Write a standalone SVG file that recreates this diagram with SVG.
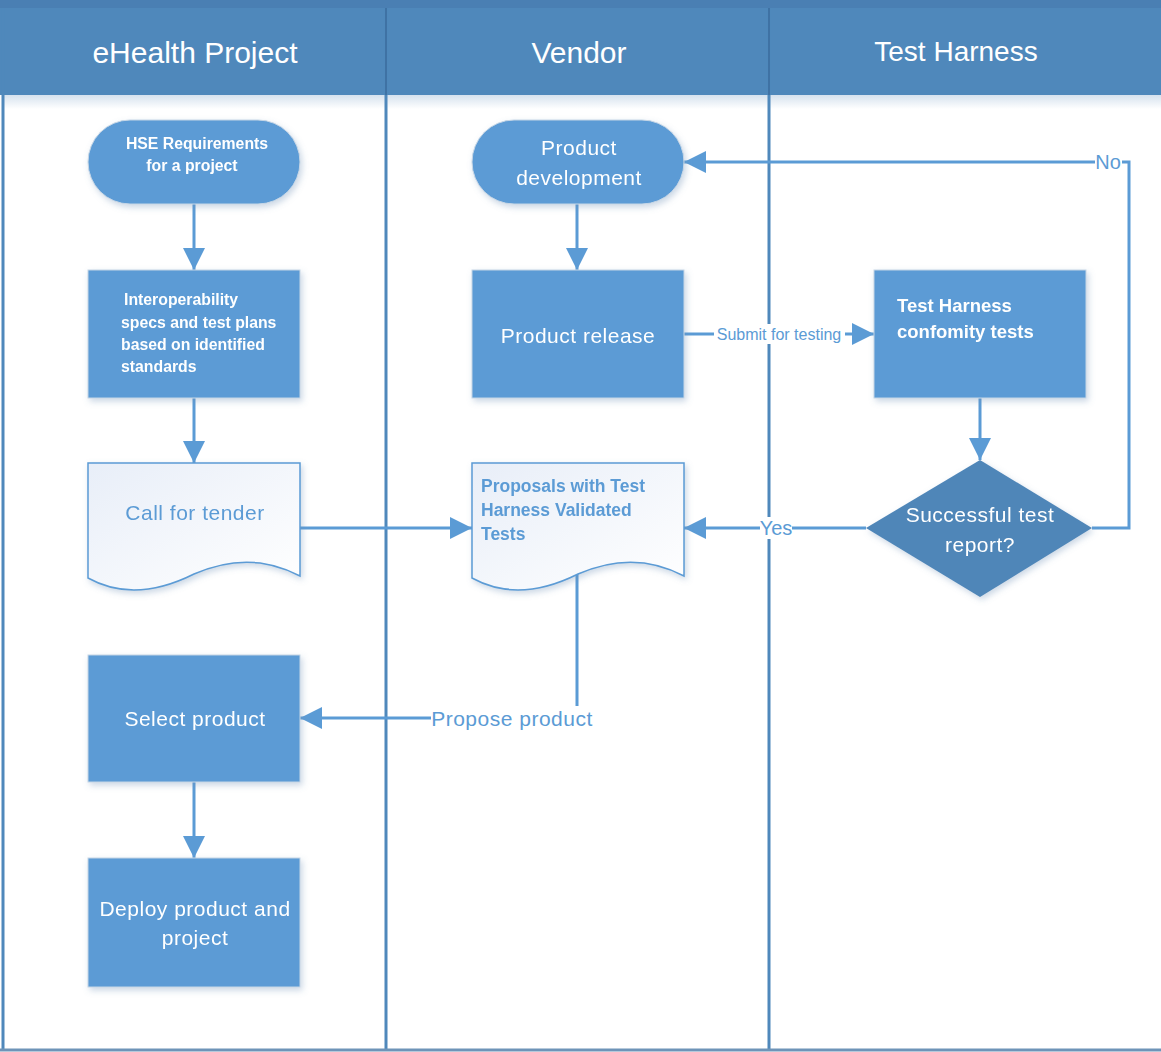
<svg xmlns="http://www.w3.org/2000/svg" width="1161" height="1052" viewBox="0 0 1161 1052">
<defs>
<style>
.hdr{fill:#4F88BB}
.lane{stroke:#4F88BB;stroke-width:3;fill:none}
.node{fill:#5B9BD5;stroke:#C6D6E6;stroke-width:1}
.doc{fill:url(#docg);stroke:#5B9BD5;stroke-width:1.5}
.dia{fill:#4F86B8}
.ht{font-family:"Liberation Sans",Arial,sans-serif;font-size:30px;fill:#ffffff;text-anchor:middle}
.t{font-family:"Liberation Sans",Arial,sans-serif;font-size:21px;letter-spacing:0.5px;fill:#ffffff;text-anchor:middle}
.tb{font-family:"Liberation Sans",Arial,sans-serif;font-size:15.8px;font-weight:bold;fill:#ffffff}
.tbb{font-family:"Liberation Sans",Arial,sans-serif;font-size:17.5px;font-weight:bold;fill:#5B9BD5}
.td{font-family:"Liberation Sans",Arial,sans-serif;font-size:21px;letter-spacing:0.5px;fill:#5B9BD5;text-anchor:middle}
.lbl{font-family:"Liberation Sans",Arial,sans-serif;fill:#5B9BD5;text-anchor:middle}
.c{stroke:#5B9BD5;stroke-width:3;fill:none}
.lb{fill:#ffffff}
</style>
<linearGradient id="docg" x1="0" y1="0" x2="1" y2="1">
<stop offset="0" stop-color="#E8EEF8"/>
<stop offset="1" stop-color="#FFFFFF"/>
</linearGradient>
<linearGradient id="shad" x1="0" y1="0" x2="0" y2="1">
<stop offset="0" stop-color="#D6E2EE"/>
<stop offset="1" stop-color="#FFFFFF"/>
</linearGradient>
<filter id="sh" x="-10%" y="-10%" width="130%" height="130%">
<feDropShadow dx="2" dy="3" stdDeviation="3" flood-color="#6A8FB5" flood-opacity="0.35"/>
</filter>
<marker id="a" viewBox="0 0 20 20" refX="20" refY="10" markerWidth="22" markerHeight="22" markerUnits="userSpaceOnUse" orient="auto">
<path d="M0,0 L20,10 L0,20 z" fill="#5B9BD5"/>
</marker>
</defs>
<rect x="0" y="0" width="1161" height="1052" fill="#ffffff"/>
<g id="pool">
<rect x="0" y="0" width="1161" height="95" class="hdr"/>
<rect x="0" y="0" width="1161" height="8" fill="#4A7FB3"/>
<rect x="3" y="95" width="1158" height="14" fill="url(#shad)"/>
<line x1="3" y1="8" x2="3" y2="1050" class="lane"/>
<line x1="386" y1="8" x2="386" y2="1050" class="lane"/>
<line x1="769" y1="8" x2="769" y2="1050" class="lane"/>
<line x1="0" y1="1050" x2="1161" y2="1050" stroke="#6E94B8" stroke-width="3"/>
<line x1="386" y1="8" x2="386" y2="95" stroke="#3F72A4" stroke-width="2"/>
<line x1="769" y1="8" x2="769" y2="95" stroke="#3F72A4" stroke-width="2"/>
<text x="195" y="63" class="ht">eHealth Project</text>
<text x="579" y="63" class="ht">Vendor</text>
<text x="956" y="61" class="ht" style="font-size:28px">Test Harness</text>
</g>
<g id="connectors">
<line x1="194" y1="204" x2="194" y2="270" class="c" marker-end="url(#a)"/>
<line x1="194" y1="398" x2="194" y2="463" class="c" marker-end="url(#a)"/>
<line x1="300" y1="528" x2="472" y2="528" class="c" marker-end="url(#a)"/>
<path d="M577,572 V718 H300" class="c" marker-end="url(#a)"/>
<line x1="194" y1="782" x2="194" y2="858" class="c" marker-end="url(#a)"/>
<line x1="577" y1="204" x2="577" y2="270" class="c" marker-end="url(#a)"/>
<line x1="684" y1="334" x2="874" y2="334" class="c" marker-end="url(#a)"/>
<line x1="980" y1="398" x2="980" y2="460" class="c" marker-end="url(#a)"/>
<line x1="866" y1="528" x2="684" y2="528" class="c" marker-end="url(#a)"/>
<path d="M1092,528 H1129 V162 H684" class="c" marker-end="url(#a)"/>
<rect x="431" y="706" width="164" height="24" class="lb"/>
<text x="512" y="726" class="lbl" style="font-size:21px;letter-spacing:0.5px">Propose product</text>
<rect x="714" y="324" width="131" height="20" class="lb"/>
<text x="779" y="340" class="lbl" style="font-size:16px">Submit for testing</text>
<rect x="760" y="517" width="32" height="22" class="lb"/>
<text x="776" y="535" class="lbl" style="font-size:20px">Yes</text>
<rect x="1095" y="151" width="27" height="22" class="lb"/>
<text x="1108" y="169" class="lbl" style="font-size:20px">No</text>
</g>
<g id="hse" filter="url(#sh)">
<rect x="88" y="120" width="212" height="84" rx="42" class="node"/>
<text x="197" y="149" class="tb" text-anchor="middle">HSE Requirements</text>
<text x="192" y="171" class="tb" text-anchor="middle">for a project</text>
</g>
<g id="interop" filter="url(#sh)">
<rect x="88" y="270" width="212" height="128" class="node"/>
<text x="124" y="305" class="tb">Interoperability</text>
<text x="121" y="328" class="tb">specs and test plans</text>
<text x="121" y="350" class="tb">based on identified</text>
<text x="121" y="372" class="tb">standards</text>
</g>
<g id="tender" filter="url(#sh)">
<path d="M88,463 H300 V576 C270,560 235,556 194,574 C150,596 115,593 88,578 Z" class="doc"/>
<text x="195" y="520" class="td">Call for tender</text>
</g>
<g id="select" filter="url(#sh)">
<rect x="88" y="655" width="212" height="127" class="node"/>
<text x="195" y="726" class="t">Select product</text>
</g>
<g id="deploy" filter="url(#sh)">
<rect x="88" y="858" width="212" height="129" class="node"/>
<text x="195" y="916" class="t">Deploy product and</text>
<text x="195" y="945" class="t">project</text>
</g>
<g id="proddev" filter="url(#sh)">
<rect x="472" y="120" width="212" height="84" rx="42" class="node"/>
<text x="579" y="155" class="t">Product</text>
<text x="579" y="185" class="t">development</text>
</g>
<g id="release" filter="url(#sh)">
<rect x="472" y="270" width="212" height="128" class="node"/>
<text x="578" y="343" class="t">Product release</text>
</g>
<g id="proposals" filter="url(#sh)">
<path d="M472,463 H684 V576 C654,560 619,556 578,574 C534,596 499,593 472,578 Z" class="doc"/>
<text x="481" y="492" class="tbb">Proposals with Test</text>
<text x="481" y="516" class="tbb">Harness Validated</text>
<text x="481" y="540" class="tbb">Tests</text>
</g>
<g id="harness" filter="url(#sh)">
<rect x="874" y="270" width="212" height="128" class="node"/>
<text x="897" y="312" class="tb" style="font-size:18.5px">Test Harness</text>
<text x="897" y="338" class="tb" style="font-size:18.5px">confomity tests</text>
</g>
<g id="decision" filter="url(#sh)">
<polygon points="980,460 1092,528 980,597 866,528" class="dia"/>
<text x="980" y="522" class="t">Successful test</text>
<text x="980" y="552" class="t">report?</text>
</g>
</svg>
